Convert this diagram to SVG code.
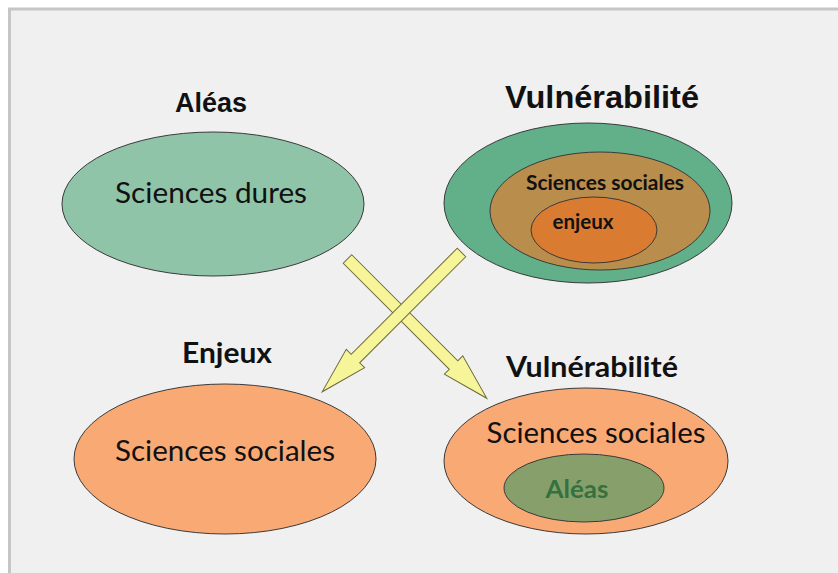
<svg xmlns="http://www.w3.org/2000/svg" width="838" height="573" viewBox="0 0 838 573">
<style>
.e{stroke:#3a3a3a;stroke-width:1}
.t{font-family:"Lato","Open Sans",sans-serif;fill:#111;text-anchor:middle}
.b{font-weight:bold}
.h{font-family:"Liberation Sans",Arial,sans-serif;font-weight:bold;fill:#111;text-anchor:middle}
.arrow{fill:#f6f59a;stroke:#6e6b3c;stroke-width:1;stroke-linejoin:miter}
</style>
<defs>
<polygon id="arr" points="0,-6 150,-6 150,-13 197,0 150,13 150,6 0,6"/>
</defs>
<rect x="0" y="0" width="838" height="573" fill="#ffffff"/>
<rect x="9.5" y="9" width="840" height="580" fill="#f0f0f0" stroke="#c6c6c6" stroke-width="3"/>

<g id="aleas">
<text class="h" x="211" y="112" font-size="27" textLength="72" lengthAdjust="spacingAndGlyphs">Aléas</text>
<ellipse class="e" cx="213" cy="204" rx="151" ry="72" fill="#8fc4a8"/>
<text class="t" x="211" y="203" font-size="28" textLength="192" lengthAdjust="spacingAndGlyphs">Sciences dures</text>
</g>

<g id="vulnerabilite-haut">
<text class="h" x="602" y="108" font-size="32" textLength="194" lengthAdjust="spacingAndGlyphs">Vulnérabilité</text>
<ellipse class="e" cx="588" cy="203" rx="144" ry="80" fill="#62b08a"/>
<ellipse class="e" cx="600" cy="211" rx="110" ry="59" fill="#b98d4c"/>
<text class="t b" x="605" y="190" font-size="20" textLength="158" lengthAdjust="spacingAndGlyphs">Sciences sociales</text>
<ellipse class="e" cx="594" cy="230" rx="63" ry="33" fill="#d97b30"/>
<text class="t b" x="583" y="229" font-size="20" textLength="61" lengthAdjust="spacingAndGlyphs">enjeux</text>
</g>

<g id="connectors">
<use href="#arr" class="arrow" transform="translate(347.5,259) rotate(45)"/>
<use href="#arr" class="arrow" transform="translate(461.5,252.5) rotate(135)"/>
</g>

<g id="enjeux">
<text class="t b" x="227" y="363" font-size="28" textLength="90" lengthAdjust="spacingAndGlyphs">Enjeux</text>
<ellipse class="e" cx="225" cy="459" rx="151" ry="75" fill="#f9a974"/>
<text class="t" x="225" y="461" font-size="28" textLength="220" lengthAdjust="spacingAndGlyphs">Sciences sociales</text>
</g>

<g id="vulnerabilite-bas">
<text class="t b" x="592" y="377" font-size="28" textLength="172" lengthAdjust="spacingAndGlyphs">Vulnérabilité</text>
<ellipse class="e" cx="586" cy="461" rx="142" ry="73" fill="#f9a974"/>
<text class="t" x="596" y="443" font-size="28" textLength="219" lengthAdjust="spacingAndGlyphs">Sciences sociales</text>
<ellipse class="e" cx="584" cy="488" rx="80" ry="34" fill="#87a06b"/>
<text class="t b" x="577" y="498" font-size="24" textLength="63" lengthAdjust="spacingAndGlyphs" style="fill:#35713f">Aléas</text>
</g>
</svg>
